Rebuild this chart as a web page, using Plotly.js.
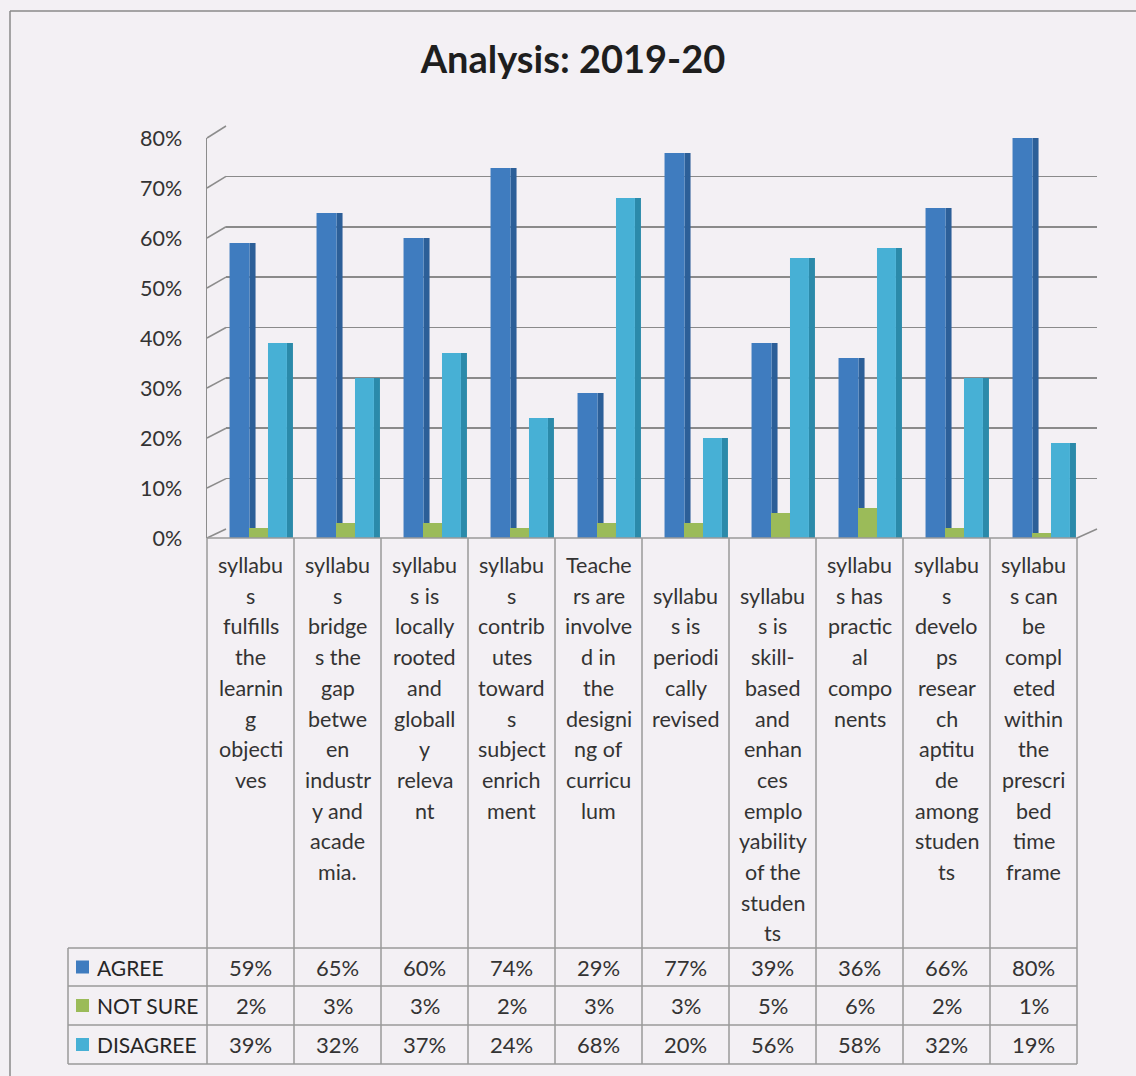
<!DOCTYPE html>
<html>
<head>
<meta charset="utf-8">
<script src="https://cdn.plot.ly/plotly-3.0.1.min.js"></script>
<style>html,body{margin:0;padding:0;background:#f3f0f4;}</style>
</head>
<body>
<div id="chart" style="width:1136px;height:1076px;"></div>
<script>
// ---------------- data ----------------
const chartTitle = "Analysis: 2019-20";
const categories = [
  "syllabus fulfills the learning objectives",
  "syllabus bridges the gap between industry and academia.",
  "syllabus is locally rooted and globally relevant",
  "syllabus contributes towards subject enrichment",
  "Teachers are involved in the designing of curriculum",
  "syllabus is periodically revised",
  "syllabus is skill-based and enhances employability of the students",
  "syllabus has practical components",
  "syllabus develops research aptitude among students",
  "syllabus can be completed within the prescribed time frame"
];
const categoryLines = [
  ["syllabu","s","fulfills","the","learnin","g","objecti","ves"],
  ["syllabu","s","bridge","s the","gap","betwe","en","industr","y and","acade","mia."],
  ["syllabu","s is","locally","rooted","and","globall","y","releva","nt"],
  ["syllabu","s","contrib","utes","toward","s","subject","enrich","ment"],
  ["Teache","rs are","involve","d in","the","designi","ng of","curricu","lum"],
  ["","syllabu","s is","periodi","cally","revised"],
  ["","syllabu","s is","skill-","based","and","enhan","ces","emplo","yability","of the","studen","ts"],
  ["syllabu","s has","practic","al","compo","nents"],
  ["syllabu","s","develo","ps","resear","ch","aptitu","de","among","studen","ts"],
  ["syllabu","s can","be","compl","eted","within","the","prescri","bed","time","frame"]
];
const seriesNames = ["AGREE", "NOT SURE", "DISAGREE"];
const agree    = [0.59, 0.65, 0.60, 0.74, 0.29, 0.77, 0.39, 0.36, 0.66, 0.80];
const notSure  = [0.02, 0.03, 0.03, 0.02, 0.03, 0.03, 0.05, 0.06, 0.02, 0.01];
const disagree = [0.39, 0.32, 0.37, 0.24, 0.68, 0.20, 0.56, 0.58, 0.32, 0.19];
const yTicks = [0, 0.1, 0.2, 0.3, 0.4, 0.5, 0.6, 0.7, 0.8];
const yTickText = ["0%","10%","20%","30%","40%","50%","60%","70%","80%"];

// ---------------- styling / geometry ----------------
const W = 1136, H = 1076;
const FONT = "Lato, 'Open Sans', sans-serif";
const TXT = "#333333";
const px = v => v / W;
const py = v => 1 - v / H;

const front = {x0: 207, x1: 1077, y0: 538, y1: 138};   // bars
const back  = {x0: 226, x1: 1097, y0: 529, y1: 126};   // back wall grid
const yMax = 0.8;
const frontY = v => front.y0 - v / yMax * (front.y0 - front.y1);
const backY  = v => back.y0 - v / yMax * (back.y0 - back.y1);
const colW = (front.x1 - front.x0) / categories.length;

const faceCol = ["#3f7cbf", "#9bbb59", "#47b0d5"];
const sideCol = ["#2c5f98", "#76923c", "#2b8aaa"];
const seriesVals = [agree, notSure, disagree];
// offsets in category units (face, side)
const faceOff = [-0.241, -0.017, 0.201];
const faceWid = [0.23, 0.218, 0.218];
const sideWid = 0.069;

const traces = [];
// empty trace so the back-wall subplot exists
traces.push({x: [], y: [], type: "scatter", xaxis: "x", yaxis: "y", showlegend: false, hoverinfo: "skip"});
for (let s = 0; s < 3; s++) {
  traces.push({
    type: "bar", x: categories, y: seriesVals[s], xaxis: "x2", yaxis: "y2",
    offset: faceOff[s] + faceWid[s], width: sideWid,
    marker: {color: sideCol[s], line: {width: 0}}, showlegend: false, hoverinfo: "skip"
  });
  traces.push({
    type: "bar", name: seriesNames[s], x: categories, y: seriesVals[s], xaxis: "x2", yaxis: "y2",
    offset: faceOff[s], width: faceWid[s],
    marker: {color: faceCol[s], line: {width: 0}}, showlegend: false
  });
}

const shapes = [];
const annotations = [];
const lineCol = "#9a9a9a";
function seg(x0, y0, x1, y1, color, w) {
  shapes.push({type: "line", xref: "paper", yref: "paper", x0: px(x0), y0: py(y0), x1: px(x1), y1: py(y1),
    line: {color: color || lineCol, width: w || 1.5}});
}
// outer frame
seg(10, 11, 10, H, "#8a8a8a", 1.5);
seg(10, 11, W, 11, "#8a8a8a", 1.5);
// left diagonals for gridlines
yTicks.forEach(t => seg(front.x0, frontY(t), back.x0, backY(t), "#8c8c8c", 1.5));
// right floor diagonal
seg(front.x1, front.y0, back.x1, back.y0, "#8c8c8c", 1.5);

// table
const tblLeft = 68;
const rowY = [948, 986, 1025, 1064];
seg(front.x0, front.y0, front.x1, front.y0);
for (let i = 0; i <= categories.length; i++) {
  const x = front.x0 + i * colW;
  seg(x, front.y0, x, rowY[3]);
}
rowY.forEach(y => seg(tblLeft, y, front.x1, y));
seg(tblLeft, rowY[0], tblLeft, rowY[3]);

// category labels
const lineStep = 30.7, firstLine = 565;
categoryLines.forEach((lines, i) => {
  const cx = front.x0 + (i + 0.5) * colW;
  lines.forEach((ln, j) => {
    if (!ln) return;
    annotations.push({xref: "paper", yref: "paper", x: px(cx), y: py(firstLine + j * lineStep),
      text: ln, showarrow: false, xanchor: "center", yanchor: "middle",
      font: {family: FONT, size: 21.5, color: TXT}});
  });
});
// value rows + legend keys
seriesVals.forEach((vals, s) => {
  const cy = (rowY[s] + rowY[s + 1]) / 2;
  vals.forEach((v, i) => {
    const cx = front.x0 + (i + 0.5) * colW;
    annotations.push({xref: "paper", yref: "paper", x: px(cx), y: py(cy),
      text: Math.round(v * 100) + "%", showarrow: false, xanchor: "center", yanchor: "middle",
      font: {family: FONT, size: 22, color: TXT}});
  });
  shapes.push({type: "rect", xref: "paper", yref: "paper", x0: px(76), x1: px(89), y0: py(cy - 6.5), y1: py(cy + 6.5),
    fillcolor: faceCol[s], line: {width: 0}});
  annotations.push({xref: "paper", yref: "paper", x: px(95), y: py(cy),
    text: seriesNames[s], showarrow: false, xanchor: "left", yanchor: "middle",
    font: {family: FONT, size: 21, color: "#262626"}});
});

const layout = {
  width: W, height: H,
  margin: {l: 0, r: 0, t: 0, b: 0},
  paper_bgcolor: "#f3f0f4", plot_bgcolor: "rgba(0,0,0,0)",
  showlegend: false,
  barmode: "overlay",
  title: {text: "<b>" + chartTitle + "</b>", x: 573 / W, xanchor: "center", y: py(60), yanchor: "middle",
    font: {family: FONT, size: 38, color: "#1e1e1e"}},
  xaxis: {domain: [px(back.x0), px(back.x1)], range: [-0.5, 9.5], anchor: "y", showgrid: false,
    zeroline: false, showticklabels: false, showline: false, fixedrange: true},
  yaxis: {domain: [py(back.y0), py(back.y1)], range: [0, yMax], anchor: "x", showgrid: true,
    tickvals: yTicks, gridcolor: "#8a8a8a", gridwidth: 1.7, zeroline: false, showticklabels: false,
    showline: false, fixedrange: true},
  xaxis2: {domain: [px(front.x0), px(front.x1)], range: [-0.5, 9.5], anchor: "y2", type: "category",
    showgrid: false, zeroline: false, showticklabels: false, showline: false},
  yaxis2: {domain: [py(front.y0), py(front.y1)], range: [0, yMax], anchor: "x2", showgrid: false,
    zeroline: false, tickvals: yTicks, ticktext: yTickText, ticks: "outside", ticklen: 19,
    tickcolor: "rgba(0,0,0,0)", showline: true, linecolor: "#8c8c8c", linewidth: 1.5,
    tickfont: {family: FONT, size: 21.5, color: TXT}},
  shapes: shapes,
  annotations: annotations
};

Plotly.newPlot("chart", traces, layout, {displayModeBar: false, staticPlot: true});
</script>
</body>
</html>
